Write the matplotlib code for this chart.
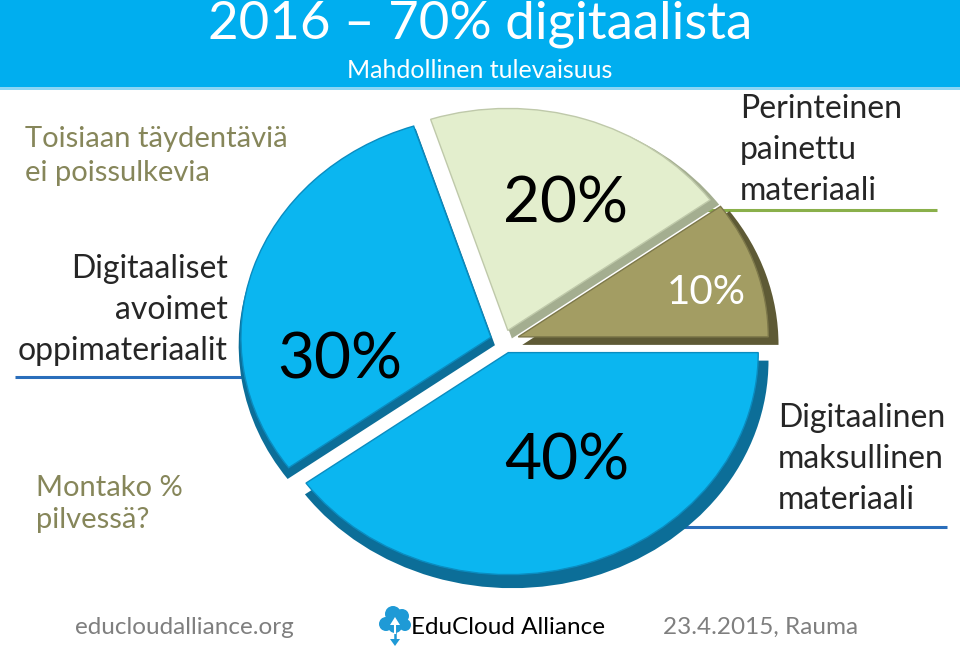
import matplotlib
matplotlib.use('Agg')
import matplotlib.pyplot as plt
from matplotlib.patches import Rectangle, Circle, Polygon

# ---------------- data ----------------
categories = ['Muu', 'Perinteinen painettu materiaali',
              'Digitaaliset avoimet oppimateriaalit',
              'Digitaalinen maksullinen materiaali']
shares = [10, 20, 30, 40]

title = '2016 – 70% digitaalista'
subtitle = 'Mahdollinen tulevaisuus'
note_top = 'Toisiaan täydentäviä\nei poissulkevia'
note_bottom = 'Montako %\npilvessä?'
label_open = 'Digitaaliset\navoimet\noppimateriaalit'
label_print = 'Perinteinen\npainettu\nmateriaali'
label_paid = 'Digitaalinen\nmaksullinen\nmateriaali'
footer_left = 'educloudalliance.org'
footer_mid = 'EduCloud Alliance'
footer_right = '23.4.2015, Rauma'

# ---------------- styles ----------------
face_colors = ['#A39D63', '#E3EECD', '#0BB6F0', '#0BB6F0']
rim_colors = ['#5E5A35', '#A4AE90', '#0C6E98', '#0C6E98']
edge_colors = ['#7D784A', '#BFC9AA', '#0A8CC0', '#0A8CC0']
label_colors = ['white', 'black', 'black', 'black']
label_sizes = [29, 46, 46, 46]
explode = [0.06, 0.05, 0.055, 0.055]
# label positions in normalised pie coordinates
label_xy = [(0.81, 0.22), (0.244, 0.613), (-0.656, -0.086), (0.252, -0.545)]

FONT = ['Lato', 'DejaVu Sans']
plt.rcParams['font.family'] = FONT

W, H = 960, 646
fig = plt.figure(figsize=(9.6, 6.46), dpi=100)
fig.patch.set_facecolor('white')

bg = fig.add_axes([0, 0, 1, 1])
bg.set_xlim(0, W)
bg.set_ylim(H, 0)
bg.axis('off')

# banner
bg.add_patch(Rectangle((0, 0), W, 87, facecolor='#00AEEF', edgecolor='none'))
bg.add_patch(Rectangle((0, 87), W, 3, facecolor='#8AD6F5', edgecolor='none'))
bg.text(480, 24, title, color='white', fontsize=38, ha='center', va='center')
bg.text(480, 70, subtitle, color='white', fontsize=18, ha='center', va='center')

# side notes
olive = '#86865A'
dark = '#262626'
bg.text(25, 156, note_top, color=olive, fontsize=21, ha='left', va='center',
        linespacing=1.4)
bg.text(36, 504, note_bottom, color=olive, fontsize=21, ha='left', va='center',
        linespacing=1.3)
bg.text(228, 310, label_open, color=dark, fontsize=23, ha='right', va='center',
        linespacing=1.45, multialignment='right')
bg.text(740, 150, label_print, color=dark, fontsize=23, ha='left', va='center',
        linespacing=1.45)
bg.text(778, 459, label_paid, color=dark, fontsize=23, ha='left', va='center',
        linespacing=1.45)

# leader lines (pie drawn above them)
bg.plot([15, 300], [377, 377], color='#2A6EBB', lw=2.2, solid_capstyle='butt')
bg.plot([650, 937], [210, 210], color='#8AB04A', lw=2.2, solid_capstyle='butt')
bg.plot([600, 947], [527, 527], color='#2A6EBB', lw=2.2, solid_capstyle='butt')

# footer
grey = '#7F7F7F'
bg.text(75, 627, footer_left, color=grey, fontsize=17.5, ha='left', va='center')
bg.text(663, 627, footer_right, color=grey, fontsize=17.5, ha='left', va='center')
bg.text(411, 627, footer_mid, color='black', fontsize=17.5, ha='left', va='center')
logo_blue = '#1F9AD6'
for (x, y, r) in [(386, 624, 7), (393, 614, 8), (402, 616, 7), (405, 625, 6), (395, 626, 7)]:
    bg.add_patch(Circle((x, y), r, facecolor=logo_blue, edgecolor='none'))
bg.plot([395, 395], [626, 641], color=logo_blue, lw=1.8)
bg.add_patch(Polygon([[390, 639], [400, 639], [395, 646]], closed=True,
                     facecolor=logo_blue, edgecolor='none'))
bg.add_patch(Polygon([[390, 625], [400, 625], [395, 617]], closed=True,
                     facecolor='white', edgecolor='none'))
bg.plot([395, 395], [623, 633], color='white', lw=1.5)

# ---------------- pie ----------------
cx, cy = 504, 341
Rx, Ry = 250, 222
L = 1.3
ax = fig.add_axes([(cx - L * Rx) / W, (H - cy - L * Ry) / H,
                   2 * L * Rx / W, 2 * L * Ry / H])
ax.set_zorder(2)
ax.patch.set_alpha(0)

# rim / depth
ax.pie(shares, explode=explode, colors=rim_colors, startangle=0,
       counterclock=True, radius=1.025, center=(4 / Rx, -8 / Ry),
       wedgeprops=dict(linewidth=0))
wedges, texts, autotexts = ax.pie(
    shares, explode=explode, colors=face_colors, startangle=0,
    counterclock=True, radius=1.0, center=(0, 0),
    autopct=lambda p: f'{p:.0f}%', pctdistance=0.62,
    wedgeprops=dict(linewidth=1.0))
for w, ec in zip(wedges, edge_colors):
    w.set_edgecolor(ec)
for t, c, s, xy in zip(autotexts, label_colors, label_sizes, label_xy):
    t.set_color(c)
    t.set_fontsize(s)
    t.set_position(xy)
    t.set_ha('center')
    t.set_va('center')

ax.set_aspect('auto')
ax.set_xlim(-L, L)
ax.set_ylim(-L, L)
ax.axis('off')

fig.savefig('out.png', dpi=100, facecolor='white')
